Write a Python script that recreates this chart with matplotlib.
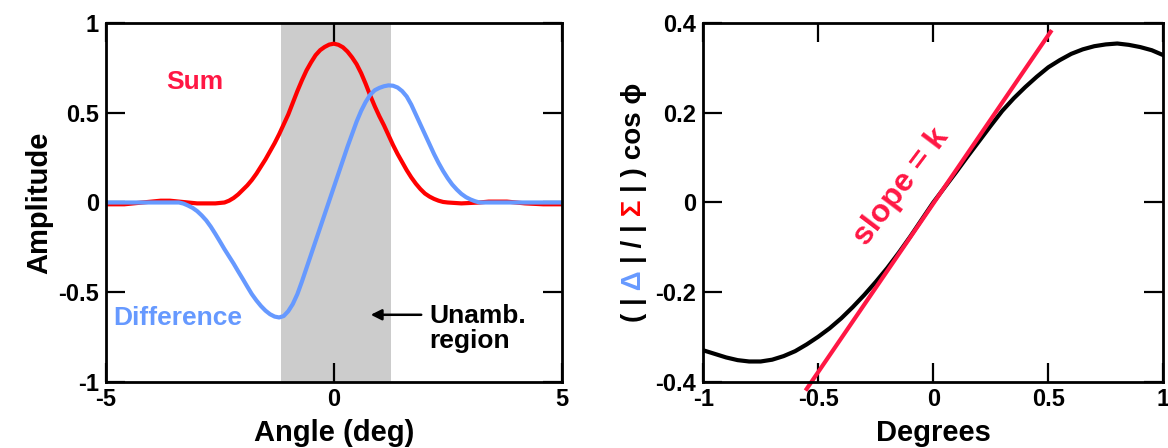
import matplotlib
matplotlib.use("Agg")
import matplotlib.pyplot as plt
from matplotlib import transforms

plt.rcParams['font.family'] = ['Liberation Sans', 'DejaVu Sans']
plt.rcParams['font.weight'] = 'bold'

RED = '#ff0000'
PINK_RED = '#ff1744'
BLUE = '#6699ff'

# left panel: sum pattern
ang_sum = [-5.0, -4.6, -4.2, -3.8, -3.6, -3.4, -3.0, -2.6,
           -2.4, -2.3, -2.2, -2.1, -2.0, -1.9, -1.8, -1.7, -1.6, -1.5, -1.4, -1.3, -1.2, -1.1,
           -1.0, -0.9, -0.8, -0.7, -0.6, -0.5, -0.4, -0.3, -0.2, -0.1, 0.0,
           0.1, 0.2, 0.3, 0.4, 0.5, 0.6, 0.7, 0.8, 0.9, 1.0, 1.1, 1.2, 1.3, 1.4,
           1.5, 1.6, 1.7, 1.8, 1.9, 2.0, 2.1, 2.2, 2.3, 2.4, 2.5,
           2.8, 3.2, 3.4, 3.8, 4.2, 4.6, 5.0]
sum_amp = [-0.01, -0.01, 0.0, 0.01, 0.01, 0.005, -0.005, -0.005,
           0.0, 0.01, 0.025, 0.045, 0.07, 0.095, 0.125, 0.16, 0.2, 0.24, 0.285, 0.33, 0.38, 0.435,
           0.49, 0.555, 0.62, 0.68, 0.735, 0.78, 0.82, 0.848, 0.866, 0.879, 0.884,
           0.878, 0.864, 0.84, 0.808, 0.77, 0.72, 0.66, 0.595, 0.535, 0.48, 0.43, 0.375, 0.32, 0.27,
           0.225, 0.18, 0.14, 0.105, 0.075, 0.05, 0.033, 0.02, 0.01, 0.003, 0.0,
           -0.005, 0.0, 0.005, 0.005, -0.005, -0.01, -0.01]

# left panel: difference pattern
ang_diff = [-5.0, -4.0, -3.4, -3.3, -3.2, -3.1, -3.0, -2.9, -2.8, -2.7, -2.6, -2.5, -2.4, -2.3,
            -2.2, -2.1, -2.0, -1.9, -1.8, -1.7, -1.6, -1.5, -1.4, -1.3, -1.2, -1.1, -1.0,
            -0.9, -0.8, -0.7, -0.6, -0.5, -0.4, -0.3, -0.2, -0.1, 0.0, 0.1, 0.2, 0.3, 0.4,
            0.5, 0.6, 0.7, 0.8, 0.9, 1.0, 1.1, 1.2, 1.3, 1.4, 1.5, 1.6, 1.7, 1.8, 1.9, 2.0,
            2.1, 2.2, 2.3, 2.4, 2.5, 2.6, 2.7, 2.8, 2.9, 3.0, 3.1, 3.2, 4.0, 5.0]
diff_amp = [0.0, 0.0, 0.0, -0.006, -0.017, -0.03, -0.048, -0.072, -0.10, -0.135, -0.175, -0.217, -0.26, -0.30,
            -0.34, -0.383, -0.425, -0.468, -0.51, -0.545, -0.576, -0.602, -0.622, -0.635, -0.64, -0.632, -0.605,
            -0.565, -0.51, -0.44, -0.365, -0.29, -0.215, -0.14, -0.065, 0.01, 0.085, 0.16, 0.235, 0.31, 0.38,
            0.45, 0.51, 0.56, 0.60, 0.625, 0.638, 0.647, 0.652, 0.65, 0.64, 0.62, 0.59, 0.545, 0.49, 0.435, 0.38,
            0.325, 0.27, 0.22, 0.175, 0.135, 0.10, 0.072, 0.048, 0.03, 0.017, 0.007, 0.0, 0.0, 0.0]
unamb = [-1.15, 1.25]

# right panel: normalized ratio
deg = [-1.0, -0.95, -0.9, -0.85, -0.8, -0.75, -0.7, -0.65, -0.6, -0.55, -0.5, -0.45, -0.4,
       -0.35, -0.3, -0.25, -0.2, -0.15, -0.1, -0.05, 0.0, 0.05, 0.1, 0.15, 0.2, 0.25, 0.3,
       0.35, 0.4, 0.45, 0.5, 0.55, 0.6, 0.65, 0.7, 0.75, 0.8, 0.85, 0.9, 0.95, 1.0]
ratio = [-0.329, -0.337, -0.345, -0.351, -0.354, -0.354, -0.350, -0.342, -0.331, -0.316, -0.299, -0.28, -0.258,
         -0.233, -0.206, -0.177, -0.146, -0.112, -0.076, -0.038, 0.0, 0.034, 0.068, 0.103, 0.137, 0.171, 0.204,
         0.232, 0.257, 0.28, 0.301, 0.317, 0.331, 0.341, 0.348, 0.352, 0.354, 0.351, 0.346, 0.339, 0.328]
slope_x = [-0.55, 0.51]
slope_y = [-0.415, 0.38]

fig = plt.figure(figsize=(11.68, 4.48), dpi=100)
ax1 = fig.add_axes([0.0908, 0.147, 0.390, 0.802])
ax2 = fig.add_axes([0.602, 0.147, 0.394, 0.802])

for ax in (ax1, ax2):
    for s in ax.spines.values():
        s.set_linewidth(2)
    ax.tick_params(direction='in', length=14, width=1.6, top=True, right=True,
                   labelsize=17)
    ax.tick_params(axis='y', pad=5)
    ax.tick_params(axis='x', pad=4)

# ---- left ----
ax1.axvspan(unamb[0], unamb[1], color='#cccccc', lw=0, zorder=0)
ax1.plot(ang_sum, sum_amp, color=RED, lw=3)
ax1.plot(ang_diff, diff_amp, color=BLUE, lw=3)
ax1.set_xlim(-5, 5)
ax1.set_ylim(-1, 1)
ax1.set_xticks([-5, 0, 5])
ax1.set_xticklabels(['-5', '0', '5'])
ax1.set_yticks([-1, -0.5, 0, 0.5, 1])
ax1.set_yticklabels(['-1', '-0.5', '0', '0.5', '1'])
ax1.set_xlabel('Angle (deg)', fontsize=21, fontweight='bold', labelpad=6)
ax1.set_ylabel('Amplitude', fontsize=21, fontweight='bold', labelpad=4)
ax1.text(-3.05, 0.67, 'Sum', color=PINK_RED, fontsize=19, fontweight='bold',
         ha='center', va='center')
ax1.text(-4.85, -0.645, 'Difference', color=BLUE, fontsize=19, fontweight='bold',
         ha='left', va='center')
ax1.text(2.1, -0.70, 'Unamb.\nregion', color='black', fontsize=19, fontweight='bold',
         ha='left', va='center', linespacing=1.05)
ax1.annotate('', xy=(0.75, -0.625), xytext=(1.98, -0.625),
             arrowprops=dict(arrowstyle='-|>', color='black', lw=1.8, mutation_scale=16))

# ---- right ----
ax2.plot(deg, ratio, color='black', lw=3)
ax2.plot(slope_x, slope_y, color=PINK_RED, lw=3, clip_on=False)
ax2.set_xlim(-1, 1)
ax2.set_ylim(-0.4, 0.4)
ax2.set_xticks([-1, -0.5, 0, 0.5, 1])
ax2.set_xticklabels(['-1', '-0.5', '0', '0.5', '1'])
ax2.set_yticks([-0.4, -0.2, 0, 0.2, 0.4])
ax2.set_yticklabels(['-0.4', '-0.2', '0', '0.2', '0.4'])
ax2.set_xlabel('Degrees', fontsize=21, fontweight='bold', labelpad=6)
ax2.text(-0.14, 0.035, 'slope = k', color=PINK_RED, fontsize=23, fontweight='bold',
         rotation=53, ha='center', va='center', rotation_mode='anchor')

# multi-colour rotated y label
pieces = [('( |', 'black'), (' \u0394 ', BLUE), ('| / |', 'black'), (' \u03a3 ', RED),
          ('| )', 'black'), (' cos \u03d5', 'black')]
fig.canvas.draw()
renderer = fig.canvas.get_renderer()
texts = []
for s, c in pieces:
    t = fig.text(0.543, 0.0, s, color=c, fontsize=20, fontweight='bold', rotation=90,
                 ha='center', va='bottom')
    ex = t.get_window_extent(renderer)
    texts.append((t, ex.height))
total = sum(h for _, h in texts)
start = (0.147 + 0.802 / 2) * fig.bbox.height - total / 2
for t, h in texts:
    t.set_transform(transforms.offset_copy(fig.transFigure, fig=fig, y=start, units='dots'))
    start += h

fig.savefig('out.png', dpi=100)
